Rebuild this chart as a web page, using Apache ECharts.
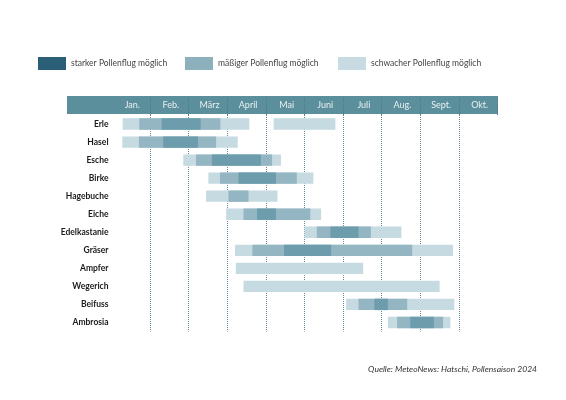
<!DOCTYPE html>
<html>
<head>
<meta charset="utf-8">
<script src="https://cdn.jsdelivr.net/npm/echarts@6/dist/echarts.min.js"></script>
<style>
html,body{margin:0;padding:0;background:#fff;}
#chart{width:566px;height:400px;}
</style>
</head>
<body>
<div id="chart"></div>
<script>
// Categories
const plants = ['Erle','Hasel','Esche','Birke','Hagebuche','Eiche','Edelkastanie','Gräser','Ampfer','Wegerich','Beifuss','Ambrosia'];
const months = ['Jan.','Feb.','März','April','Mai','Juni','Juli','Aug.','Sept.','Okt.'];
const levelNames = ['starker Pollenflug möglich','mäßiger Pollenflug möglich','schwacher Pollenflug möglich'];
const sourceText = 'Quelle: MeteoNews: Hatschi, Pollensaison 2024';

// Ranges: [plant index, start, end] in months since 1 January
const weakRanges = [
  [0,0.29,3.57],[0,4.20,5.80],[1,0.28,3.27],[2,1.86,4.39],[3,2.51,5.23],[4,2.45,4.30],
  [5,2.97,5.43],[6,5.00,7.51],[7,3.20,8.85],[8,3.22,6.52],[9,3.42,8.50],[10,6.08,8.88],[11,7.16,8.78]
];
const moderateRanges = [
  [0,0.72,2.82],[1,0.71,2.71],[2,2.19,4.16],[3,2.81,4.80],[4,3.03,3.55],[5,3.42,5.15],
  [6,5.32,6.72],[7,3.65,7.79],[10,6.40,7.66],[11,7.40,8.59]
];
const strongRanges = [
  [0,1.30,2.31],[1,1.34,2.24],[2,2.60,3.87],[3,3.29,4.26],[5,3.77,4.26],
  [6,5.67,6.40],[7,4.47,5.69],[10,6.81,7.16],[11,7.74,8.35]
];

const chart = echarts.init(document.getElementById('chart'), null, {renderer:'canvas'});

function renderItem(params, api){
  const y = api.value(0);
  const s = api.coord([api.value(1), y]);
  const e = api.coord([api.value(2), y]);
  const h = api.size([0,1])[1] * 0.63;
  return {
    type:'rect',
    shape:{x:s[0], y:s[1]-h/2, width:e[0]-s[0], height:h},
    style:{fill: api.visual('color')}
  };
}

const font = 'Lato, "Noto Sans", sans-serif';
function legendFor(name, color, left){
  return {
    left: left, top: 52, itemWidth: 28, itemHeight: 13, itemGap: 10,
    icon: 'rect', selectedMode: false,
    data: [{name: name, itemStyle: {color: color}}],
    textStyle: {fontSize: 8.5, color: '#444', fontFamily: font}
  };
}

const option = {
  backgroundColor: '#fff',
  animation: false,
  title: {
    text: sourceText, right: 24, top: 360,
    textStyle: {fontSize: 8.5, fontStyle: 'italic', fontWeight: 'normal', color: '#333', fontFamily: font}
  },
  legend: [
    legendFor(levelNames[0], '#2a5f77', 33),
    legendFor(levelNames[1], '#8cb0bc', 180),
    legendFor(levelNames[2], '#c8dbe2', 333)
  ],
  graphic: [{
    type: 'rect', z: -10, silent: true,
    shape: {x: 67, y: 96, width: 431, height: 18},
    style: {fill: '#5b8f9b'}
  }],
  grid: {left: 111.5, right: 68.5, top: 115, height: 216.5},
  xAxis: [{
    type: 'value', min: 0, max: 10, interval: 1,
    axisLabel: {show: false}, axisLine: {show: false}, axisTick: {show: false},
    splitLine: {show: true, showMinLine: false, showMaxLine: false,
      lineStyle: {type: 'dotted', color: '#62899a', width: 1}}
  },{
    type: 'category', data: months, position: 'top', boundaryGap: true,
    axisLine: {show: false},
    axisTick: {show: true, length: 18, inside: false,
      interval: function(i){ return i > 0 && i < months.length; },
      lineStyle: {type: 'dotted', color: '#487a87', width: 1}},
    axisLabel: {color: '#e9f0f2', fontSize: 9, margin: 5, fontFamily: font, padding: [0,0,0,3]}
  }],
  yAxis: {
    type: 'category', data: plants, inverse: true,
    axisLine: {show: false}, axisTick: {show: false}, splitLine: {show: false},
    axisLabel: {color: '#1a1a1a', fontSize: 8.5, fontWeight: 'bold', margin: 3, fontFamily: font}
  },
  series: [
    {name: levelNames[2], type: 'custom', renderItem: renderItem, data: weakRanges,
      encode: {x: [1,2], y: 0}, itemStyle: {color: '#c6dae1'}},
    {name: levelNames[1], type: 'custom', renderItem: renderItem, data: moderateRanges,
      encode: {x: [1,2], y: 0}, itemStyle: {color: '#94b6c2'}},
    {name: levelNames[0], type: 'custom', renderItem: renderItem, data: strongRanges,
      encode: {x: [1,2], y: 0}, itemStyle: {color: '#6d9cad'}}
  ]
};
chart.setOption(option);
</script>
</body>
</html>
